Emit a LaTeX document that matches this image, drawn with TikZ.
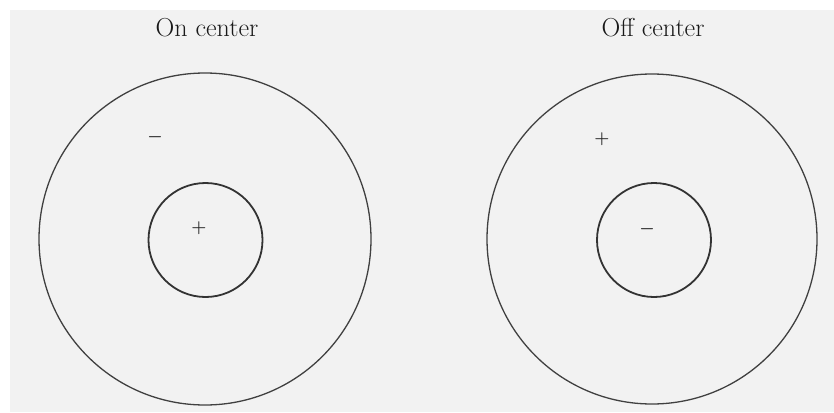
\documentclass[tikz,border=0pt]{standalone}
\begin{document}
\begin{tikzpicture}[x=1pt,y=-1pt,
  outer/.style={draw=black!75,line width=1.3pt},
  inner/.style={draw=black!80,line width=1.8pt},
  title/.style={font=\fontsize{26}{29}\selectfont,text=black!90,inner sep=0pt},
  sign/.style={font=\fontsize{19}{21}\selectfont\boldmath,text=black!85,inner sep=0pt}]
\useasboundingbox (0,0) rectangle (834,412);
\fill[white] (0,0) rectangle (834,412);
\fill[black!5] (10,10) rectangle (834,412);
% left
\node[title] (t1) at (207,28) {On center};
\draw[outer] (205,239) circle[radius=166];
\draw[inner] (205.5,240) circle[radius=57];
\node[sign] (m1) at (155,137) {$-$};
\node[sign] (p1) at (199,228) {$+$};
% right
\node[title] (t2) at (653,28) {Off center};
\draw[outer] (652,239) circle[radius=165];
\draw[inner] (654,240) circle[radius=57];
\node[sign] (p2) at (602,139) {$+$};
\node[sign] (m2) at (647,229) {$-$};
\end{tikzpicture}
\end{document}
